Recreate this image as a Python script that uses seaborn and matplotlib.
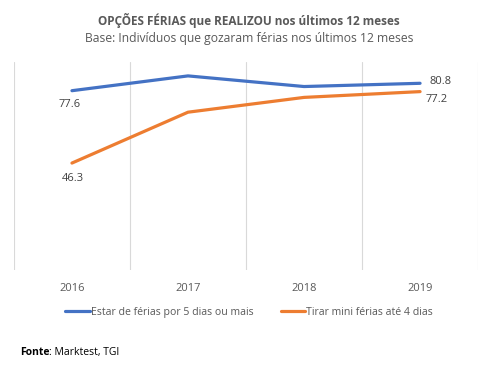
import pandas as pd
import numpy as np
import seaborn as sns
import matplotlib.pyplot as plt

years = ['2016', '2017', '2018', '2019']
ferias_5dias = [77.6, 84.0, 79.4, 80.8]
mini_ferias = [46.3, 68.3, 74.7, 77.2]
series_names = ['Estar de férias por 5 dias ou mais', 'Tirar mini férias até 4 dias']

df = pd.DataFrame({
    'ano': list(range(len(years))) * 2,
    'valor': ferias_5dias + mini_ferias,
    'serie': [series_names[0]] * 4 + [series_names[1]] * 4,
})

sns.set_style('white')
plt.rcParams['font.family'] = ['Open Sans', 'DejaVu Sans']
grey = '#595959'

fig = plt.figure(figsize=(4.98, 3.67), dpi=100)
ax = fig.add_axes([0.028, 0.264, 0.932, 0.567])

sns.lineplot(data=df, x='ano', y='valor', hue='serie',
             palette=['#4472C4', '#ED7D31'], linewidth=2.3, ax=ax, legend=False)

ax.set_xlim(-0.5, 3.5)
ax.set_ylim(0, 90)
ax.set_xticks(range(4))
ax.set_xticklabels(years, color=grey, fontsize=8)
ax.set_xticks(np.arange(-0.5, 4, 1), minor=True)
ax.grid(False)
ax.grid(True, which='minor', axis='x', color='#d9d9d9', linewidth=0.8)
ax.tick_params(axis='x', which='both', length=0, pad=9)
ax.set_yticks([])
ax.set_xlabel('')
ax.set_ylabel('')
for s in ax.spines.values():
    s.set_visible(False)

# data labels
lab = dict(textcoords='offset points', ha='center', va='center', fontsize=8, color='#404040')
ax.annotate(f'{ferias_5dias[0]}', (0, ferias_5dias[0]), xytext=(-2, -10), **lab)
ax.annotate(f'{mini_ferias[0]}', (0, mini_ferias[0]), xytext=(1, -11), **lab)
ax.annotate(f'{ferias_5dias[3]}', (3, ferias_5dias[3]), xytext=(15, 1), **lab)
ax.annotate(f'{mini_ferias[3]}', (3, mini_ferias[3]), xytext=(12, -6), **lab)

fig.text(0.5, 0.943, 'OPÇÕES FÉRIAS que REALIZOU nos últimos 12 meses',
         ha='center', va='center', fontsize=8.5, fontweight='bold', color=grey)
fig.text(0.5, 0.895, 'Base: Indivíduos que gozaram férias nos últimos 12 meses',
         ha='center', va='center', fontsize=8.7, color=grey)

handles = [plt.Line2D([], [], color='#4472C4', lw=2.3),
           plt.Line2D([], [], color='#ED7D31', lw=2.3)]
fig.legend(handles, series_names, loc='center', bbox_to_anchor=(0.5, 0.148),
           ncol=2, frameon=False, fontsize=7.6, labelcolor=grey,
           handlelength=2.3, handletextpad=0.1, columnspacing=2.6)

t = fig.text(0.04, 0.04, 'Fonte', fontsize=7.5, fontweight='bold', color='black', va='center')
ax.annotate(': Marktest, TGI', xy=(1, 0.5), xycoords=t, ha='left', va='center',
            fontsize=7.5, color='black')

fig.savefig('out.png', dpi=100)
